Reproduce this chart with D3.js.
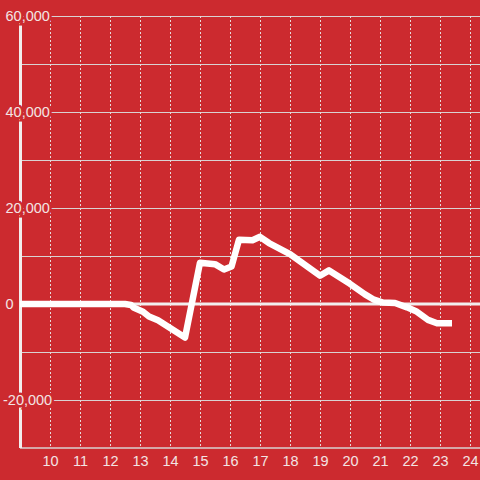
<!DOCTYPE html>
<html><head><meta charset="utf-8">
<script src="https://cdn.jsdelivr.net/npm/d3@7"></script>
<style>html,body{margin:0;padding:0;background:#cc2a2f;}svg{display:block;}</style>
</head><body>
<svg id="chart" width="480" height="480"></svg>
<script>
const hours = [9, 12.5, 12.7, 12.8, 13.1, 13.3, 13.6, 14.5, 15.0, 15.5, 15.8, 16.05, 16.3, 16.75, 17.0, 17.3, 18.0, 19.0, 19.3, 20.0, 20.5, 20.8, 21.1, 21.5, 21.9, 22.2, 22.6, 22.9, 23.4];
const values = [0, 0, -200, -800, -1600, -2600, -3400, -7000, 8600, 8300, 7200, 7800, 13400, 13300, 14000, 12700, 10400, 5900, 7000, 4200, 2000, 900, 300, 200, -700, -1500, -3300, -4000, -4000];
const xTicks = [10, 11, 12, 13, 14, 15, 16, 17, 18, 19, 20, 21, 22, 23, 24];
const yTicks = [-20000, 0, 20000, 40000, 60000];
const yMinor = [-30000, -10000, 10000, 30000, 50000];

const W = 480, H = 480;
const mLeft = 20, mRight = 480, mTop = 16, mBottom = 448;
const svg = d3.select("#chart");
svg.append("rect").attr("width", W).attr("height", H).attr("fill", "#cc2a2f");

const x = d3.scaleLinear().domain([9, 24 + 1/3]).range([mLeft, mRight]);
const y = d3.scaleLinear().domain([-30000, 60000]).range([mBottom, mTop]);

// horizontal gridlines
svg.append("g").selectAll("line").data(yTicks.concat(yMinor).filter(v => v !== 0 && v > -30000))
  .join("line")
  .attr("x1", mLeft).attr("x2", mRight)
  .attr("y1", d => Math.round(y(d)) + 0.5).attr("y2", d => Math.round(y(d)) + 0.5)
  .attr("stroke", "#d9d2d2").attr("stroke-width", 1);

// vertical dotted gridlines
svg.append("g").selectAll("line").data(xTicks)
  .join("line")
  .attr("x1", d => Math.round(x(d)) + 0.5).attr("x2", d => Math.round(x(d)) + 0.5)
  .attr("y1", mTop).attr("y2", mBottom)
  .attr("stroke", "#e6dada").attr("stroke-width", 1).attr("stroke-dasharray", "2,2");

// x axis line
svg.append("line").attr("x1", mLeft).attr("x2", mRight)
  .attr("y1", mBottom).attr("y2", mBottom)
  .attr("stroke", "#d9d2d2").attr("stroke-width", 1.5);

// zero line
svg.append("line").attr("x1", mLeft).attr("x2", mRight)
  .attr("y1", y(0)).attr("y2", y(0))
  .attr("stroke", "#f2eeee").attr("stroke-width", 3);

// y axis line
svg.append("line").attr("x1", mLeft + 0.5).attr("x2", mLeft + 0.5)
  .attr("y1", mTop).attr("y2", mBottom)
  .attr("stroke", "#f2eeee").attr("stroke-width", 3);

// data line
const line = d3.line().x((d, i) => x(hours[i])).y(d => y(d));
svg.append("path").datum(values)
  .attr("d", line)
  .attr("fill", "none").attr("stroke", "#ffffff")
  .attr("stroke-width", 6.5).attr("stroke-linejoin", "round");

// y labels
const fmt = d3.format(",");
svg.append("g").selectAll("text").data(yTicks)
  .join("text")
  .attr("x", d => d < 0 ? 3 : 5.5)
  .attr("y", d => y(d))
  .attr("dy", "0.35em")
  .attr("font-family", "Liberation Sans, Arial, sans-serif")
  .attr("font-size", 14.5)
  .attr("fill", "#f3e4e4")
  .attr("stroke", "#cc2a2f").attr("stroke-width", 5)
  .attr("paint-order", "stroke")
  .text(d => fmt(d).replace("−", "-"));

// x labels
svg.append("g").selectAll("text").data(xTicks)
  .join("text")
  .attr("x", d => x(d) + 0.5)
  .attr("y", 466)
  .attr("text-anchor", "middle")
  .attr("font-family", "Liberation Sans, Arial, sans-serif")
  .attr("font-size", 14.5)
  .attr("fill", "#f3e4e4")
  .text(d => d);
</script>
</body></html>
